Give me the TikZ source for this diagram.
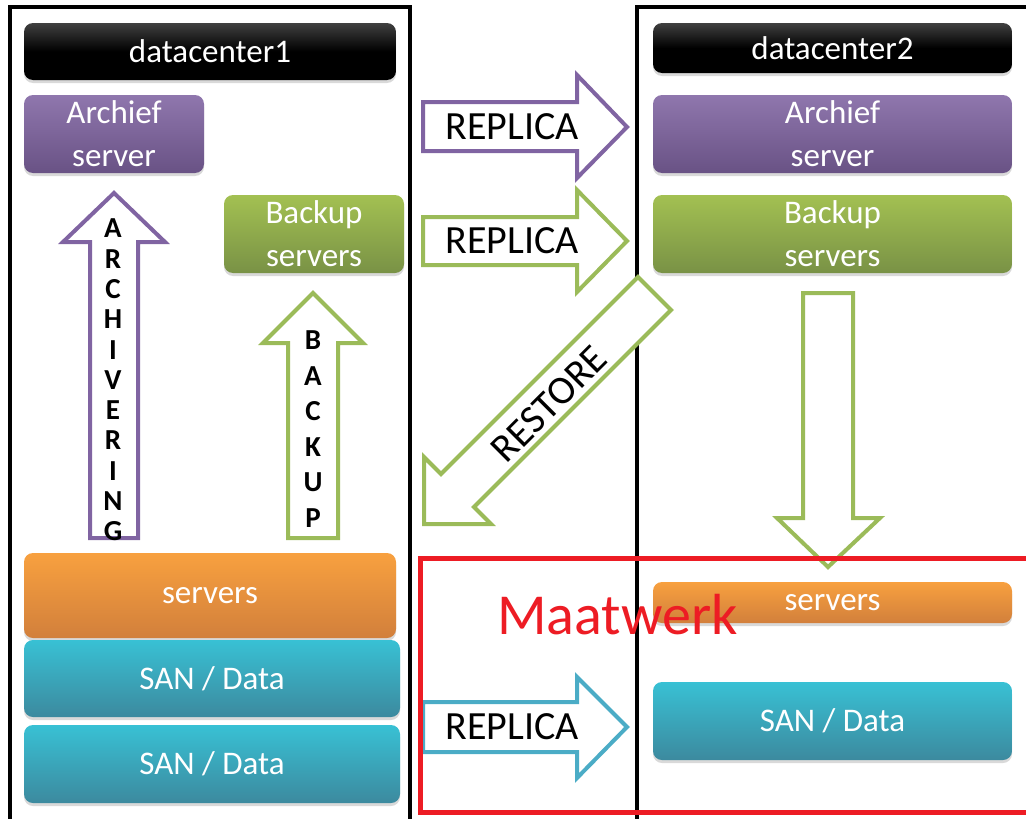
\documentclass[tikz,border=0pt]{standalone}
\usepackage{fontspec}
\setmainfont{Carlito}
\usetikzlibrary{shadows}

\definecolor{archpurple}{HTML}{8064A2}
\definecolor{bakgreen}{HTML}{9BBB59}
\definecolor{sancyan}{HTML}{4BACC6}
\definecolor{srvorange}{HTML}{F79646}
\definecolor{maatred}{HTML}{ED1C24}

\tikzset{
	dcbox/.style={rounded corners=9pt, text=white, inner sep=0pt, align=center,
		font=\fontsize{33}{43}\selectfont,
		drop shadow={opacity=.3, shadow xshift=0pt, shadow yshift=-3pt}},
	headbox/.style={dcbox, top color=black!75, bottom color=black, middle color=black},
	archbox/.style={dcbox, top color=archpurple!88!white, bottom color=archpurple!82!black},
	bakbox/.style={dcbox, top color=bakgreen!92!yellow, bottom color=bakgreen!78!black},
	srvbox/.style={dcbox, top color=srvorange!90!yellow, bottom color=srvorange!85!black},
	sanbox/.style={dcbox, top color=sancyan!75!cyan, bottom color=sancyan!80!black},
	blockarrow/.style={draw, line width=4pt, fill=white, line join=miter},
	arrowlabel/.style={font=\fontsize{40}{40}\selectfont, text=black},
	letters/.style={font=\fontsize{29}{#1}\selectfont\bfseries, align=center, inner sep=0pt},
	frame/.style={line width=4pt}
}

\begin{document}
\begin{tikzpicture}[x=1pt, y=-1pt]
	\useasboundingbox (0,0) rectangle (1026,819);
	\clip (0,0) rectangle (1026,819);

	% datacenter frames
	\draw[frame] (10,830) -- (10,7) -- (410,7) -- (410,830);
	\draw[frame] (637,830) -- (637,7) -- (1040,7);

	% datacenter1
	\node (dc1) [headbox, minimum width=372pt, minimum height=57pt] at (210,51.5) {datacenter1};
	\node (arch1) [archbox, minimum width=180pt, minimum height=78pt] at (114,134) {Archief\\server};
	\node (bak1) [bakbox, minimum width=180pt, minimum height=78pt] at (314,234) {Backup\\servers};
	\node (srv1) [srvbox, minimum width=372pt, minimum height=85pt] at (210,595.5) {servers};
	\node (san1) [sanbox, minimum width=376pt, minimum height=77pt] at (212,678.5) {SAN / Data};
	\node (san1b) [sanbox, minimum width=376pt, minimum height=78pt] at (212,764) {SAN / Data};

	% datacenter2
	\node (dc2) [headbox, minimum width=359pt, minimum height=50pt] at (832.5,48) {datacenter2};
	\node (arch2) [archbox, minimum width=359pt, minimum height=78pt] at (832.5,134) {Archief\\server};
	\node (bak2) [bakbox, minimum width=359pt, minimum height=78pt] at (832.5,234) {Backup\\servers};
	\node (srv2) [srvbox, minimum width=359pt, minimum height=41pt] at (832.5,602.5) {servers};
	\node (san2) [sanbox, minimum width=359pt, minimum height=78pt] at (832.5,721) {SAN / Data};

	% archivering and backup inside datacenter1
	\draw[blockarrow, draw=archpurple] (90,538) -- (90,242) -- (63,242) -- (114,193)
		-- (165,242) -- (138,242) -- (138,538) -- cycle;
	\node (archiv) [letters=30.3] at (113,380) {A\\R\\C\\H\\I\\V\\E\\R\\I\\N\\G};
	\draw[blockarrow, draw=bakgreen] (288,538) -- (288,343) -- (263,343) -- (313,293)
		-- (363,343) -- (338,343) -- (338,538) -- cycle;
	\node (backup) [letters=35.5] at (313,429) {B\\A\\C\\K\\U\\P};

	% replica arrows
	\draw[blockarrow, draw=archpurple] (423,102) -- (577,102) -- (577,75) -- (627,127)
		-- (577,178) -- (577,151) -- (423,151) -- cycle;
	\node (rep1) [arrowlabel] at (512,127) {REPLICA};
	\draw[blockarrow, draw=bakgreen] (423,217) -- (577,217) -- (577,190) -- (627,241)
		-- (577,292) -- (577,265) -- (423,265) -- cycle;
	\node (rep2) [arrowlabel] at (512,241) {REPLICA};
	\draw[blockarrow, draw=sancyan] (423,702) -- (577,702) -- (577,677) -- (627,727)
		-- (577,778) -- (577,752) -- (423,752) -- cycle;
	\node (rep3) [arrowlabel] at (512,727) {REPLICA};

	% restore
	\draw[blockarrow, draw=bakgreen] (638,277) -- (671,310) -- (474,507) -- (491,524)
		-- (424,524) -- (424,457) -- (441,474) -- cycle;
	\node (restore) [arrowlabel, rotate=45] at (549,404) {RESTORE};

	% backup down in datacenter2
	\draw[blockarrow, draw=bakgreen] (803,293) -- (853,293) -- (853,518) -- (880,518)
		-- (828,567) -- (777,518) -- (803,518) -- cycle;

	% maatwerk
	\draw[maatred, line width=5pt] (1040,558) -- (420,558) -- (420,812) -- (1040,812);
	\node (maat) [anchor=base west, inner sep=0pt, text=maatred,
		font=\fontsize{58}{58}\selectfont] at (497,634) {Maatwerk};
\end{tikzpicture}
\end{document}
